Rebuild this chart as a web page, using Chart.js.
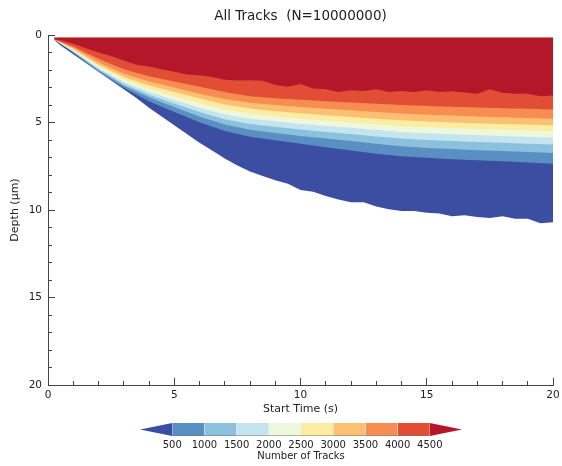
<!DOCTYPE html>
<html>
<head>
<meta charset="utf-8">
<script src="https://cdn.jsdelivr.net/npm/chart.js@4.4.1/dist/chart.umd.min.js"></script>
<style>
  body { margin: 0; background: #fff; }
  #wrap { position: relative; width: 562px; height: 466px; }
  #tracks { position: absolute; left: 0; top: 0; }
  #colourbar { position: absolute; left: 0; top: 416px; }
</style>
</head>
<body>
<div id="wrap">
  <canvas id="tracks" width="562" height="418"></canvas>
  <canvas id="colourbar" width="562" height="50"></canvas>
</div>
<script>
const chartTitle = "All Tracks  (N=10000000)";
const xTitle = "Start Time (s)";
const yTitle = "Depth (μm)";
const barTitle = "Number of Tracks";

// contour levels of the track count and the colour of each band (lowest first)
const trackLevels = [500, 1000, 1500, 2000, 2500, 3000, 3500, 4000, 4500];
const bandColours = ["#3b4ea1", "#5a8fc3", "#8cc1dd", "#c4e5f0", "#eef8dd",
                     "#fdeda2", "#fdbf72", "#f88d52", "#e24d35", "#b5172a"];

const topDepth = 0.15;

// start times (s) at which the band edges were read
const coarseTimes = [0.25, 1, 2, 3, 4, 5, 6, 7, 8, 9, 10, 11, 12, 13, 14, 15, 16, 17, 18, 19, 20];
const fineTimes = [0.25, 0.5, 1, 1.5, 2, 2.5, 3, 3.5, 4, 4.5, 5, 5.5, 6, 6.5, 7, 7.5, 8, 8.5, 9, 9.5,
                   10, 10.5, 11, 11.5, 12, 12.5, 13, 13.5, 14, 14.5, 15, 15.5, 16, 16.5, 17, 17.5,
                   18, 18.5, 19, 19.5, 20];

// lower edge (depth, µm) of each band
const edgeTracks = [0.3, 0.6, 1.1, 1.6, 2.1, 2.6, 3.1, 3.6, 4.15, 4.65, 5.15, 5.65, 6.15, 6.6, 7.05, 7.45,
                    7.8, 8.05, 8.3, 8.5, 8.85, 8.95, 9.2, 9.4, 9.55, 9.55, 9.8, 9.95, 10.05, 10.05,
                    10.15, 10.2, 10.35, 10.3, 10.4, 10.45, 10.35, 10.5, 10.5, 10.75, 10.7];
const edge500  = [0.25, 1.02, 2.1, 3.02, 3.78, 4.4, 4.98, 5.48, 5.82, 6.02, 6.22, 6.42, 6.6, 6.78, 6.93, 7.02, 7.1, 7.16, 7.22, 7.29, 7.35];
const edge1000 = [0.25, 0.98, 2.02, 2.9, 3.56, 4.12, 4.65, 5.12, 5.42, 5.6, 5.77, 5.92, 6.06, 6.22, 6.36, 6.45, 6.52, 6.58, 6.63, 6.69, 6.74];
const edge1500 = [0.25, 0.94, 1.95, 2.8, 3.41, 3.92, 4.4, 4.82, 5.08, 5.24, 5.4, 5.54, 5.66, 5.8, 5.92, 6.0, 6.06, 6.11, 6.16, 6.21, 6.26];
const edge2000 = [0.25, 0.9, 1.88, 2.68, 3.25, 3.72, 4.15, 4.54, 4.78, 4.93, 5.07, 5.2, 5.3, 5.42, 5.54, 5.61, 5.67, 5.72, 5.77, 5.82, 5.86];
const edge2500 = [0.25, 0.85, 1.8, 2.55, 3.08, 3.5, 3.9, 4.27, 4.5, 4.65, 4.78, 4.9, 5.0, 5.1, 5.21, 5.27, 5.33, 5.38, 5.42, 5.46, 5.5];
const edge3000 = [0.25, 0.8, 1.7, 2.4, 2.88, 3.25, 3.62, 3.97, 4.2, 4.35, 4.47, 4.58, 4.68, 4.78, 4.87, 4.94, 5.0, 5.04, 5.08, 5.12, 5.16];
const edge3500 = [0.25, 0.73, 1.55, 2.22, 2.66, 3.0, 3.35, 3.65, 3.87, 4.0, 4.12, 4.22, 4.3, 4.4, 4.49, 4.55, 4.6, 4.65, 4.7, 4.74, 4.78];
const edge4000 = [0.25, 0.65, 1.35, 1.95, 2.35, 2.65, 2.95, 3.25, 3.5, 3.62, 3.7, 3.78, 3.85, 3.93, 4.0, 4.05, 4.1, 4.14, 4.18, 4.22, 4.26];
const edge4500 = [0.25, 0.3, 0.5, 0.75, 1.0, 1.2, 1.45, 1.7, 1.8, 1.95, 2.1, 2.25, 2.3, 2.4, 2.55, 2.6,
                  2.58, 2.62, 2.85, 2.95, 2.8, 3.05, 3.1, 3.25, 3.15, 3.2, 3.1, 3.25, 3.2, 3.25,
                  3.15, 3.25, 3.22, 3.28, 3.35, 3.1, 3.3, 3.35, 3.35, 3.5, 3.45];

const textColour = "#222";
const axisColour = "#444";
const fontFamily = '"DejaVu Sans", sans-serif';

let tracksChart;
let colourbarChart;

function toPoints(times, depths) {
  return times.map((t, i) => ({ x: t, y: depths[i] }));
}

// every band is filled from the top of the plot down to its own lower edge,
// the upper bands are painted last so they cover the lower ones
const bandEdges = [
  [fineTimes, edgeTracks], [coarseTimes, edge500], [coarseTimes, edge1000], [coarseTimes, edge1500],
  [coarseTimes, edge2000], [coarseTimes, edge2500], [coarseTimes, edge3000], [coarseTimes, edge3500],
  [coarseTimes, edge4000], [fineTimes, edge4500]
];

const bandDatasets = bandEdges.map(([times, depths], i) => ({
  label: i === 0 ? "< 500" : i === 9 ? "> 4500" : trackLevels[i - 1] + "-" + trackLevels[i],
  data: toPoints(times, depths),
  showLine: true,
  pointRadius: 0,
  borderWidth: 0,
  borderColor: "rgba(0,0,0,0)",
  backgroundColor: bandColours[i],
  fill: { value: topDepth },
})).reverse();

const titlePlugin = {
  id: "centredTitle",
  afterDraw(chart) {
    const { ctx, chartArea } = chart;
    ctx.save();
    ctx.font = "13.5px " + fontFamily;
    ctx.fillStyle = textColour;
    ctx.textAlign = "center";
    ctx.textBaseline = "middle";
    ctx.fillText(chartTitle, (chartArea.left + chartArea.right) / 2, 16);
    ctx.restore();
  },
};

const tickFont = { family: fontFamily, size: 10.5 };
const labelFont = { family: fontFamily, size: 11 };

function fixHeight(h) {
  return (scale) => { scale.height = h; scale.paddingLeft = 0; scale.paddingRight = 0; };
}
function fixWidth(w) {
  return (scale) => { scale.width = w; scale.paddingTop = 0; scale.paddingBottom = 0; };
}

tracksChart = new Chart(document.getElementById("tracks"), {
  type: "scatter",
  data: { datasets: bandDatasets },
  options: {
    responsive: false,
    animation: false,
    layout: { padding: { top: 35, right: 9, left: 0, bottom: 0 } },
    plugins: { legend: { display: false }, tooltip: { enabled: false } },
    scales: {
      x: {
        type: "linear", position: "bottom", min: 0, max: 20, weight: 1,
        ticks: { stepSize: 5, padding: 11, color: textColour, font: tickFont, maxRotation: 0 },
        grid: { drawOnChartArea: false, tickLength: -7, tickColor: axisColour, z: 1 },
        border: { color: axisColour, width: 1, z: 1 },
        title: { display: true, text: xTitle, color: textColour, font: labelFont, padding: { top: 0, bottom: 2 } },
        afterFit: fixHeight(33),
      },
      xMinor: {
        type: "linear", position: "bottom", min: 0, max: 20, weight: 0,
        ticks: { stepSize: 1, display: false },
        grid: { drawOnChartArea: false, tickLength: -4, tickColor: axisColour, z: 1 },
        border: { display: false, z: 1 },
        afterFit: fixHeight(0),
      },
      y: {
        type: "linear", position: "left", reverse: true, min: 0, max: 20, weight: 1,
        ticks: { stepSize: 5, padding: 13, color: textColour, font: tickFont },
        grid: { drawOnChartArea: false, tickLength: -7, tickColor: axisColour, z: 1 },
        border: { color: axisColour, width: 1, z: 1 },
        title: { display: true, text: yTitle, color: textColour, font: labelFont, padding: { top: 9, bottom: 0 } },
        afterFit: fixWidth(48),
      },
      yMinor: {
        type: "linear", position: "left", reverse: true, min: 0, max: 20, weight: 0,
        ticks: { stepSize: 1, display: false },
        grid: { drawOnChartArea: false, tickLength: -4, tickColor: axisColour, z: 1 },
        border: { display: false, z: 1 },
        afterFit: fixWidth(0),
      },
    },
  },
  plugins: [titlePlugin],
});

// colour bar: one cell per contour interval, triangles for the open ends
const lowEnd = 0;
const highEnd = 5000;
const barDatasets = [];
for (let i = 0; i < trackLevels.length - 1; i++) {
  barDatasets.push({
    data: [{ x: trackLevels[i], y: 1 }, { x: trackLevels[i + 1], y: 1 }],
    backgroundColor: bandColours[i + 1],
    fill: { value: 0 },
  });
}
const lastLevel = trackLevels[trackLevels.length - 1];
barDatasets.push(
  { data: [{ x: lowEnd, y: 0.5 }, { x: trackLevels[0], y: 1 }], backgroundColor: bandColours[0], fill: "+1" },
  { data: [{ x: lowEnd, y: 0.5 }, { x: trackLevels[0], y: 0 }], fill: false },
  { data: [{ x: lastLevel, y: 1 }, { x: highEnd, y: 0.5 }], backgroundColor: bandColours[9], fill: "+1" },
  { data: [{ x: lastLevel, y: 0 }, { x: highEnd, y: 0.5 }], fill: false },
);
barDatasets.forEach((ds) => {
  ds.showLine = true;
  ds.pointRadius = 0;
  ds.borderWidth = 0;
  ds.borderColor = "rgba(0,0,0,0)";
});
barDatasets.unshift({
  data: [{ x: trackLevels[0], y: 0 }, { x: lastLevel, y: 0 }],
  showLine: true, pointRadius: 0, borderWidth: 1, borderColor: "#777", fill: false,
});

colourbarChart = new Chart(document.getElementById("colourbar"), {
  type: "scatter",
  data: { datasets: barDatasets },
  options: {
    responsive: false,
    animation: false,
    layout: { padding: { top: 7, right: 100, left: 140, bottom: 0 } },
    plugins: { legend: { display: false }, tooltip: { enabled: false } },
    scales: {
      x: {
        type: "linear", position: "bottom", min: lowEnd, max: highEnd,
        afterBuildTicks: (scale) => { scale.ticks = trackLevels.map((v) => ({ value: v })); },
        ticks: { padding: 3, color: textColour, font: { family: fontFamily, size: 10 },
                 autoSkip: false, maxRotation: 0, callback: (v) => String(v) },
        grid: { display: false, drawTicks: false },
        border: { display: false },
        title: { display: true, text: barTitle, color: textColour, font: { family: fontFamily, size: 10 },
                 padding: { top: 0, bottom: 4 } },
        afterFit: fixHeight(30),
      },
      y: { display: false, min: 0, max: 1 },
    },
  },
});
</script>
</body>
</html>
